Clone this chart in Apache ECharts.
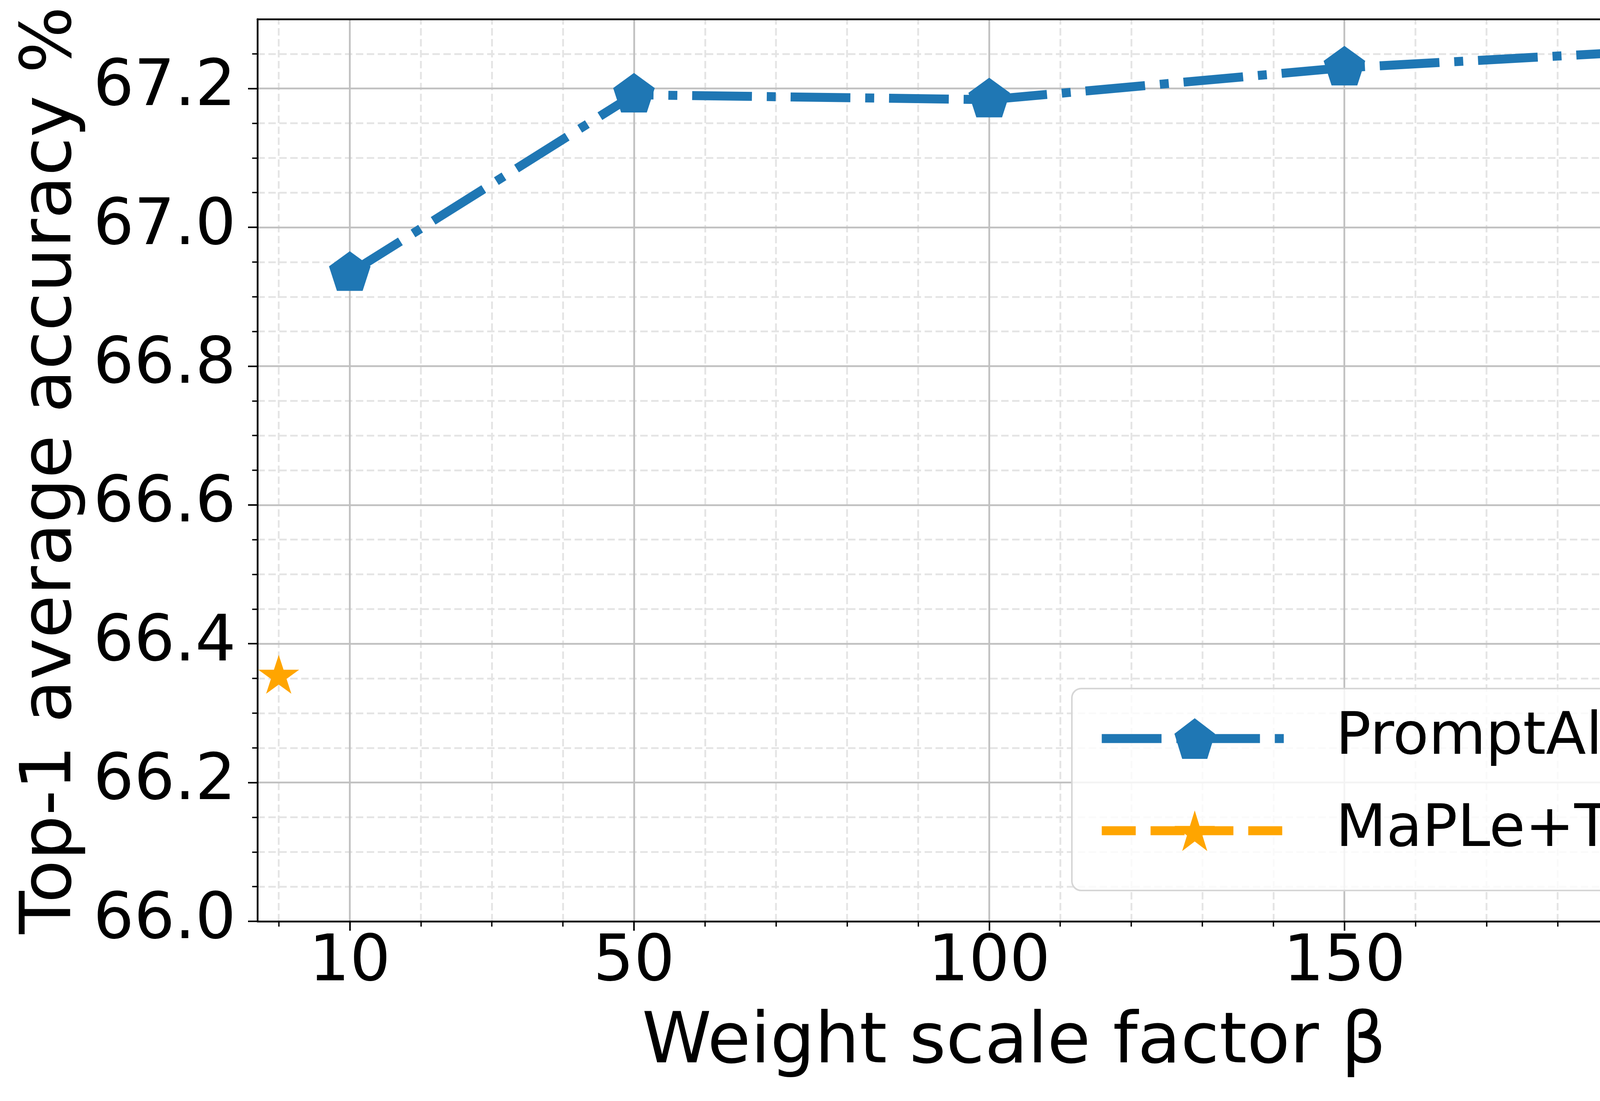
<!DOCTYPE html>
<html>
<head>
<meta charset="utf-8">
<script src="https://cdn.jsdelivr.net/npm/echarts@6/dist/echarts.min.js"></script>
<style>html,body{margin:0;padding:0;background:#fff}#c{width:4583px;height:2819px}</style>
</head>
<body>
<div id="c"></div>
<script>
// ---- data ----
const betaValues = [10, 50, 100, 150, 200];
const promptAlignAcc = [66.934, 67.191, 67.184, 67.230, 67.258];
const mapleX = [0];
const mapleAcc = [66.353];
const seriesNames = ['PromptAlign', 'MaPLe+TPT'];
// ---- ticks ----
const xMajorTicks = [10, 50, 100, 150, 200];
const xMinorTicks = [0, 20, 30, 40, 60, 70, 80, 90, 110, 120, 130, 140, 160, 170, 180, 190, 210];
const yMajorTicks = [66.0, 66.2, 66.4, 66.6, 66.8, 67.0, 67.2];
const yMinorTicks = [66.05, 66.1, 66.15, 66.25, 66.3, 66.35, 66.45, 66.5, 66.55, 66.65, 66.7, 66.75,
                     66.85, 66.9, 66.95, 67.05, 67.1, 67.15, 67.25];

function polyPath(n, innerRatio) {
  const pts = [];
  const count = innerRatio ? n * 2 : n;
  for (let k = 0; k < count; k++) {
    const a = (-90 + k * 360 / count) * Math.PI / 180;
    const r = innerRatio && (k % 2 === 1) ? 100 * innerRatio : 100;
    pts.push((r * Math.cos(a)).toFixed(3) + ' ' + (r * Math.sin(a)).toFixed(3));
  }
  return 'path://M' + pts.join(' L') + ' Z';
}
const pentagon = polyPath(5, 0);
const star = polyPath(5, 0.381966);

const FONT = 'DejaVu Sans';
const X_MIN = -3, X_MAX = 210, Y_MIN = 66.0, Y_MAX = 67.3;

const majorGrid = {color: '#c0c0c0', width: 4.5, type: 'solid'};
const minorGrid = {color: '#e4e4e4', width: 4.5, type: [19, 9]};

const gridLines = []
  .concat(xMinorTicks.map(v => ({xAxis: v, lineStyle: minorGrid})))
  .concat(yMinorTicks.map(v => ({yAxis: v, lineStyle: minorGrid})))
  .concat(xMajorTicks.map(v => ({xAxis: v, lineStyle: majorGrid})))
  .concat(yMajorTicks.map(v => ({yAxis: v, lineStyle: majorGrid})));

const chart = echarts.init(document.getElementById('c'), null, {renderer: 'canvas'});
const spine = {color: '#000', width: 4.5};

chart.setOption({
  animation: false,
  backgroundColor: '#ffffff',
  grid: {left: 659, right: 50, top: 49, bottom: 460, containLabel: false},
  xAxis: [
    {
      type: 'value', position: 'bottom', min: X_MIN, max: X_MAX,
      axisLine: {show: true, onZero: false, lineStyle: spine},
      axisTick: {show: true, customValues: xMajorTicks, length: 24, lineStyle: {color: '#000', width: 4}},
      axisLabel: {show: true, customValues: xMajorTicks, fontSize: 164, fontFamily: FONT, color: '#000', margin: 26},
      splitLine: {show: false},
      name: 'Weight scale factor β', nameLocation: 'middle', nameGap: 224,
      nameTextStyle: {fontSize: 180, fontFamily: FONT, color: '#000'}
    },
    {
      type: 'value', position: 'bottom', min: X_MIN, max: X_MAX,
      axisLine: {show: false, onZero: false},
      axisTick: {show: true, customValues: xMinorTicks, length: 13.5, lineStyle: {color: '#000', width: 3.5}},
      axisLabel: {show: false}, splitLine: {show: false}
    },
    {
      type: 'value', position: 'top', min: X_MIN, max: X_MAX,
      axisLine: {show: true, onZero: false, lineStyle: spine},
      axisTick: {show: false}, axisLabel: {show: false}, splitLine: {show: false}
    }
  ],
  yAxis: [
    {
      type: 'value', position: 'left', min: Y_MIN, max: Y_MAX,
      axisLine: {show: true, onZero: false, lineStyle: spine},
      axisTick: {show: true, customValues: yMajorTicks, length: 24, lineStyle: {color: '#000', width: 4}},
      axisLabel: {show: true, customValues: yMajorTicks, fontSize: 164, fontFamily: FONT, color: '#000', margin: 55,
                  formatter: v => Number(v).toFixed(1)},
      splitLine: {show: false},
      name: 'Top-1 average accuracy %', nameLocation: 'middle', nameGap: 436,
      nameTextStyle: {fontSize: 180, fontFamily: FONT, color: '#000'}
    },
    {
      type: 'value', position: 'left', min: Y_MIN, max: Y_MAX,
      axisLine: {show: false, onZero: false},
      axisTick: {show: true, customValues: yMinorTicks, length: 13.5, lineStyle: {color: '#000', width: 3.5}},
      axisLabel: {show: false}, splitLine: {show: false}
    },
    {
      type: 'value', position: 'right', min: Y_MIN, max: Y_MAX,
      axisLine: {show: true, onZero: false, lineStyle: spine},
      axisTick: {show: false}, axisLabel: {show: false}, splitLine: {show: false}
    }
  ],
  legend: {
    data: seriesNames.map(n => ({name: n})),
    orient: 'vertical', left: 2744, top: 1763,
    itemWidth: 476, itemHeight: 130, itemGap: 86,
    padding: [53, 62, 78, 65],
    backgroundColor: 'rgba(255,255,255,0.8)', borderColor: '#d6d6d6', borderWidth: 4, borderRadius: 24,
    textStyle: {fontSize: 150, fontFamily: FONT, color: '#000', lineHeight: 150, padding: [0, 0, 0, 118]},
    lineStyle: {width: 'inherit'},
    selectedMode: false, z: 10
  },
  series: [
    {
      type: 'line', name: '_grid', data: [], z: 0, silent: true, symbol: 'none',
      xAxisIndex: 0, yAxisIndex: 0,
      markLine: {silent: true, z: 0, symbol: ['none', 'none'], label: {show: false}, animation: false,
                 emphasis: {disabled: true}, data: gridLines}
    },
    {
      name: seriesNames[0], type: 'line', xAxisIndex: 0, yAxisIndex: 0, z: 3,
      data: betaValues.map((b, i) => [b, promptAlignAcc[i]]),
      symbol: pentagon, symbolSize: [106.5, 101.3], symbolOffset: [0, -5.35],
      color: '#1f77b4',
      lineStyle: {color: '#1f77b4', width: 23, type: [153, 38, 23, 38], cap: 'butt', join: 'round'},
      itemStyle: {color: '#1f77b4', borderWidth: 0},
      clip: false
    },
    {
      name: seriesNames[1], type: 'line', xAxisIndex: 0, yAxisIndex: 0, z: 4,
      data: mapleX.map((x, i) => [x, mapleAcc[i]]),
      symbol: star, symbolSize: [104.6, 99.5], symbolOffset: [0, -5.25],
      color: '#ffa500',
      lineStyle: {color: '#ffa500', width: 23, type: [87, 38], cap: 'butt', join: 'round'},
      itemStyle: {color: '#ffa500', borderWidth: 0},
      clip: false
    }
  ]
});
</script>
</body>
</html>
